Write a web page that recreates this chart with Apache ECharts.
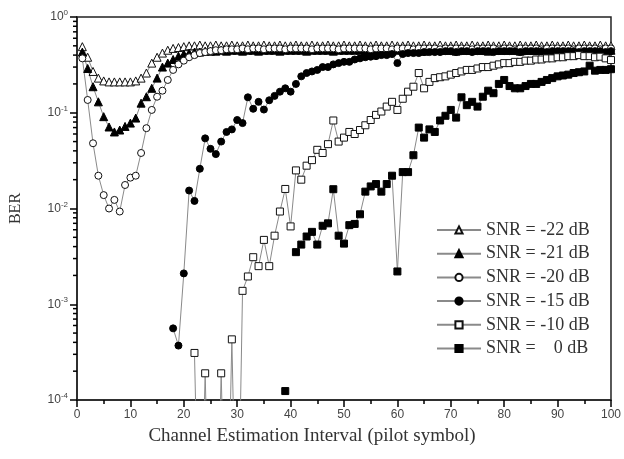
<!DOCTYPE html>
<html>
<head>
<meta charset="utf-8">
<script src="https://cdn.jsdelivr.net/npm/echarts@6/dist/echarts.min.js"></script>
<style>html,body{margin:0;padding:0;background:#fff;}#c{width:624px;height:459px;}</style>
</head>
<body>
<div id="c"></div>
<script>
// Channel estimation interval (pilot symbol), 1..100
const intervals = [1,2,3,4,5,6,7,8,9,10,11,12,13,14,15,16,17,18,19,20,21,22,23,24,25,26,27,28,29,30,31,32,33,34,35,36,37,38,39,40,41,42,43,44,45,46,47,48,49,50,51,52,53,54,55,56,57,58,59,60,61,62,63,64,65,66,67,68,69,70,71,72,73,74,75,76,77,78,79,80,81,82,83,84,85,86,87,88,89,90,91,92,93,94,95,96,97,98,99,100];

const seriesNames = ['SNR = -22 dB','SNR = -21 dB','SNR = -20 dB','SNR = -15 dB','SNR = -10 dB','SNR =    0 dB'];

// BER values (null = no point; 1e-6 = below plotted range)
const ber22 = [0.49,0.38,0.27,0.23,0.215,0.21,0.21,0.21,0.21,0.21,
  0.215,0.23,0.26,0.33,0.38,0.42,0.45,0.47,0.48,0.49,
  0.50,0.50,0.51,0.50,0.50,0.51,0.50,0.50,0.51,0.50,
  0.50,0.51,0.50,0.50,0.51,0.50,0.50,0.51,0.50,0.50,
  0.51,0.50,0.50,0.51,0.50,0.50,0.51,0.50,0.50,0.51,
  0.50,0.50,0.51,0.50,0.50,0.51,0.50,0.50,0.51,0.50,
  0.50,0.51,0.50,0.50,0.51,0.50,0.50,0.51,0.50,0.50,
  0.51,0.50,0.50,0.51,0.50,0.50,0.51,0.50,0.50,0.51,
  0.50,0.50,0.51,0.50,0.50,0.51,0.50,0.50,0.51,0.50,
  0.50,0.51,0.50,0.50,0.51,0.50,0.50,0.51,0.50,0.50];

const ber21 = [0.43,0.29,0.187,0.13,0.091,0.071,0.063,0.066,0.072,0.078,
  0.088,0.126,0.147,0.18,0.23,0.30,0.33,0.36,0.39,0.41,
  0.42,0.43,0.43,0.44,0.44,0.44,0.45,0.44,0.45,0.45,
  0.44,0.45,0.45,0.44,0.45,0.45,0.45,0.44,0.45,0.45,
  0.45,0.45,0.44,0.45,0.45,0.45,0.45,0.44,0.45,0.45,
  0.45,0.45,0.45,0.44,0.45,0.45,0.45,0.45,0.44,0.45,
  0.45,0.45,0.45,0.45,0.44,0.45,0.45,0.45,0.45,0.45,
  0.44,0.45,0.45,0.45,0.45,0.45,0.44,0.45,0.45,0.45,
  0.45,0.45,0.44,0.45,0.45,0.45,0.45,0.45,0.44,0.45,
  0.45,0.45,0.45,0.44,0.45,0.45,0.45,0.45,0.44,0.45];

const ber20 = [0.37,0.136,0.048,0.022,0.0138,0.0100,0.0123,0.0093,0.0176,0.021,
  0.022,0.038,0.069,0.107,0.147,0.17,0.22,0.28,0.32,0.35,
  0.38,0.40,0.42,0.43,0.44,0.45,0.45,0.46,0.46,0.46,
  0.47,0.46,0.47,0.47,0.46,0.47,0.47,0.47,0.46,0.47,
  0.47,0.47,0.47,0.46,0.47,0.47,0.47,0.47,0.46,0.47,
  0.47,0.47,0.47,0.47,0.46,0.47,0.47,0.47,0.46,0.47,
  0.47,0.47,0.46,0.47,0.47,0.47,0.47,0.46,0.47,0.47,
  0.47,0.47,0.47,0.46,0.47,0.47,0.47,0.47,0.46,0.47,
  0.47,0.46,0.47,0.47,0.47,0.47,0.46,0.47,0.47,0.47,
  0.47,0.47,0.46,0.47,0.47,0.47,0.47,0.46,0.47,0.47];

const ber15 = [null,null,null,null,null,null,null,null,null,null,
  null,null,null,null,null,null,null,0.00056,0.00037,0.0021,
  0.0154,0.012,0.026,0.054,0.042,0.037,0.05,0.063,0.067,0.084,
  0.078,0.145,0.11,0.13,0.108,0.135,0.15,0.166,0.18,0.166,
  0.20,0.24,0.26,0.27,0.28,0.30,0.30,0.32,0.33,0.34,
  0.34,0.36,0.37,0.38,0.385,0.39,0.40,0.40,0.41,0.33,
  0.41,0.42,0.42,0.42,0.43,0.43,0.43,0.43,0.44,0.44,
  0.43,0.44,0.44,0.43,0.44,0.44,0.44,0.43,0.44,0.44,
  0.44,0.44,0.43,0.44,0.44,0.44,0.44,0.43,0.44,0.44,
  0.44,0.44,0.44,0.43,0.44,0.44,0.44,0.44,0.43,0.44];

const ber10 = [null,null,null,null,null,null,null,null,null,null,
  null,null,null,null,null,null,null,null,null,null,
  null,0.00031,1e-6,0.00019,1e-6,1e-6,0.00019,1e-6,0.00043,1e-6,
  0.00138,0.00195,0.0031,0.0025,0.0047,0.0025,0.0052,0.0093,0.016,0.0065,
  0.025,0.020,0.028,0.032,0.041,0.038,0.047,0.083,0.050,0.055,
  0.063,0.060,0.066,0.074,0.084,0.095,0.103,0.116,0.13,0.107,
  0.14,0.166,0.187,0.26,0.18,0.21,0.23,0.235,0.24,0.25,
  0.26,0.27,0.28,0.28,0.29,0.30,0.30,0.31,0.32,0.33,
  0.33,0.34,0.34,0.35,0.35,0.36,0.36,0.37,0.37,0.38,
  0.38,0.39,0.39,0.40,0.39,0.39,0.38,0.385,0.37,0.355];

const ber0 = [null,null,null,null,null,null,null,null,null,null,
  null,null,null,null,null,null,null,null,null,null,
  null,null,null,null,null,null,null,null,null,null,
  null,null,null,null,null,null,null,null,0.000124,null,
  0.0035,0.0042,0.0051,0.0057,0.0042,0.0066,0.0070,0.0159,0.0052,0.0043,
  0.0067,0.0069,0.0087,0.015,0.017,0.018,0.015,0.018,0.022,0.0022,
  0.024,0.024,0.036,0.070,0.055,0.067,0.063,0.083,0.093,0.107,
  0.089,0.145,0.12,0.13,0.116,0.147,0.17,0.16,0.20,0.22,
  0.19,0.18,0.18,0.19,0.20,0.20,0.21,0.22,0.23,0.24,
  0.245,0.25,0.26,0.265,0.27,0.31,0.275,0.28,0.28,0.285];

const allValues = [ber22, ber21, ber20, ber15, ber10, ber0];
const symbols = ['triangle','triangle','circle','circle','rect','rect'];
const filled = [false,true,false,true,false,true];
const sizes = [8,8,7,7,7,7];

const xTicks = [0,10,20,30,40,50,60,70,80,90,100];
// minor tick positions on the logarithmic BER axis
const yMinorTicks = [2e-4,3e-4,4e-4,5e-4,6e-4,7e-4,8e-4,9e-4,
  2e-3,3e-3,4e-3,5e-3,6e-3,7e-3,8e-3,9e-3,
  0.02,0.03,0.04,0.05,0.06,0.07,0.08,0.09,
  0.2,0.3,0.4,0.5,0.6,0.7,0.8,0.9];

function pairs(vals){ return intervals.map((x,i)=>[x, vals[i]]); }

const series = seriesNames.map((name,k)=>({
  name: name,
  type: 'line',
  data: pairs(allValues[k]),
  symbol: symbols[k],
  symbolSize: sizes[k],
  showSymbol: true,
  connectNulls: false,
  clip: true,
  lineStyle: {color:'#8a8a8a', width:1},
  itemStyle: filled[k] ? {color:'#000', borderColor:'#000', borderWidth:1}
                       : {color:'#fff', borderColor:'#111', borderWidth:1},
  emphasis: {disabled:true},
  animation: false
}));

// minor ticks of the log axis, placed through the axis scale
series.push({
  name: 'minorTicks',
  type: 'custom',
  coordinateSystem: 'cartesian2d',
  clip: false,
  silent: true,
  z: 10,
  encode: {x: 0, y: 1},
  data: yMinorTicks.map(v => [0, v]),
  renderItem: function(params, api){
    const p = api.coord([api.value(0), api.value(1)]);
    return {type:'line', shape:{x1:p[0]-4, y1:p[1], x2:p[0], y2:p[1]},
            style:{stroke:'#000', lineWidth:1.5}};
  },
  animation: false
});

const chart = echarts.init(document.getElementById('c'), null, {renderer:'canvas'});
chart.setOption({
  animation: false,
  backgroundColor: '#fff',
  grid: {left:77, right:11, top:17, bottom:59, show:true, borderColor:'#222', borderWidth:1.5, backgroundColor:'transparent'},
  legend: {
    orient:'vertical', left:431, top:215,
    itemWidth:44, itemHeight:9, itemGap:3.7,
    data: seriesNames,
    textStyle:{fontFamily:'Liberation Serif', fontSize:18, color:'#333', lineHeight:20},
    selectedMode:false
  },
  xAxis: {
    type:'value', min:0, max:100, interval:10,
    name:'Channel Estimation Interval (pilot symbol)', nameLocation:'middle', nameGap:27,
    nameTextStyle:{fontFamily:'Liberation Serif', fontSize:19, color:'#333', padding:[0,64,0,0]},
    axisLine:{show:true, lineStyle:{color:'#222', width:1.5}},
    axisTick:{show:true, inside:false, length:7, lineStyle:{color:'#000', width:1.5}},
    minorTick:{show:true, splitNumber:2, length:4, lineStyle:{color:'#000', width:1.5}},
    splitLine:{show:false},
    axisLabel:{fontFamily:'Liberation Sans', fontSize:12, color:'#444', margin:9,
      formatter: v => xTicks.indexOf(v) >= 0 ? String(v) : ''}
  },
  yAxis: {
    type:'log', min:1e-4, max:1, logBase:10,
    name:'BER', nameLocation:'middle', nameGap:53,
    nameTextStyle:{fontFamily:'Liberation Serif', fontSize:16, color:'#333'},
    axisLine:{show:true, lineStyle:{color:'#222', width:1.5}},
    axisTick:{show:true, inside:false, length:7, lineStyle:{color:'#000', width:1.5}},
    splitLine:{show:false},
    axisLabel:{margin:9, formatter: v => '{b|10}{s|' + Math.round(Math.log10(v)) + '}',
      rich:{b:{fontFamily:'Liberation Sans', fontSize:12, color:'#444'},
            s:{fontFamily:'Liberation Sans', fontSize:8, color:'#444', padding:[0,0,8,0]}}}
  },
  series: series
});
</script>
</body>
</html>
